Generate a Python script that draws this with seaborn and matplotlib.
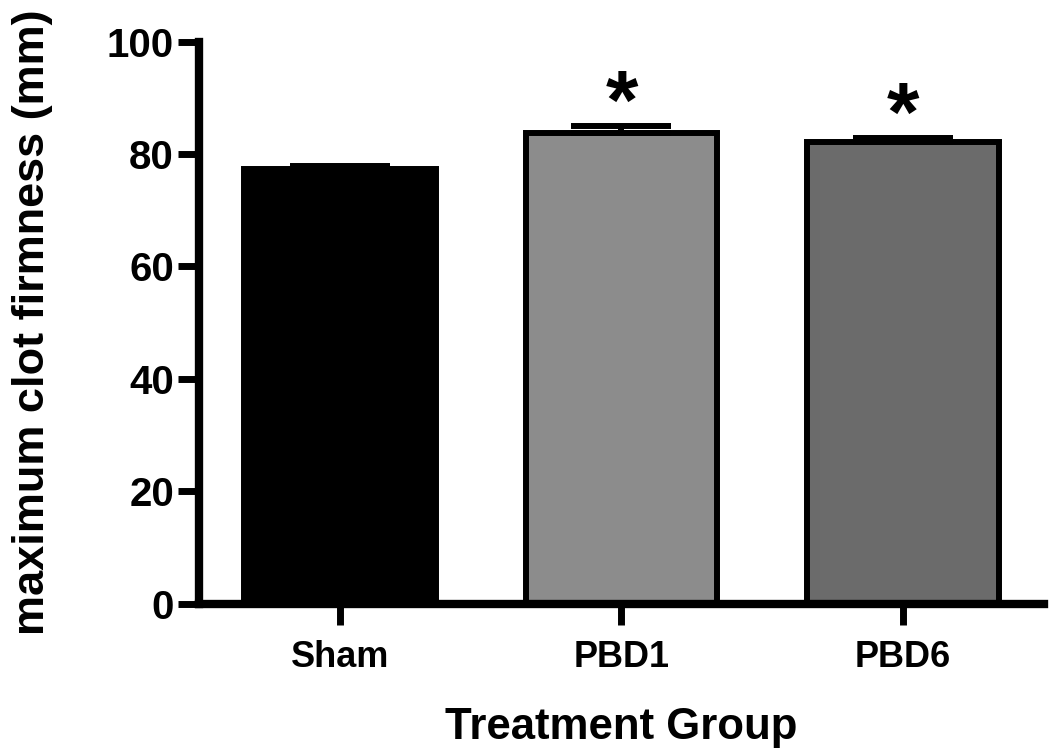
import numpy as np
import matplotlib
matplotlib.use('Agg')
import matplotlib.pyplot as plt
import seaborn as sns

# Data
groups = ['Sham', 'PBD1', 'PBD6']
means = [77.4, 83.7, 82.2]
sems = [0.4, 1.2, 0.6]
signif = ['', '*', '*']
bar_colors = ['#000000', '#8c8c8c', '#6b6b6b']

sns.set_style('ticks', rc={'text.color': 'black', 'axes.labelcolor': 'black',
                           'xtick.color': 'black', 'ytick.color': 'black',
                           'axes.edgecolor': 'black'})
plt.rcParams['font.family'] = ['Liberation Sans', 'DejaVu Sans']
plt.rcParams['font.weight'] = 'bold'

fig = plt.figure(figsize=(10.5, 7.51), dpi=100)
ax = fig.add_axes([0.1895, 0.1964, 0.8048, 0.7483])

sns.barplot(x=groups, y=means, hue=groups, palette=bar_colors, legend=False,
            width=0.68, edgecolor='black', linewidth=4.3, saturation=1, ax=ax)

# upper error bars only (Prism style)
xpos = np.arange(len(groups))
ax.errorbar(xpos, means, yerr=[np.zeros(len(sems)), sems], fmt='none',
            ecolor='black', elinewidth=4.3, capsize=36, capthick=4.3, zorder=5)

# significance stars
for x, m, s, lab in zip(xpos, means, sems, signif):
    if lab:
        ax.annotate(lab, (x, m + s), xytext=(0, -2), textcoords='offset points',
                    ha='center', va='baseline', fontsize=60, fontweight='bold')

ax.set_xlim(-0.5, 2.5)
ax.set_ylim(0, 100)
ax.set_yticks([0, 20, 40, 60, 80, 100])

for side in ['top', 'right']:
    ax.spines[side].set_visible(False)
for side in ['left', 'bottom']:
    ax.spines[side].set_linewidth(6)
    ax.spines[side].set_capstyle('projecting')

ax.tick_params(axis='y', left=True, length=15, width=5, pad=3, labelsize=29)
ax.tick_params(axis='x', bottom=True, length=15, width=5, pad=11, labelsize=26)
for lbl in ax.get_xticklabels() + ax.get_yticklabels():
    lbl.set_fontweight('bold')

ax.set_ylabel('maximum clot firmness (mm)', fontsize=32.5, fontweight='bold', labelpad=39)
ax.set_xlabel('Treatment Group', fontsize=31.5, fontweight='bold', labelpad=23)

fig.savefig('out.png', dpi=100)
